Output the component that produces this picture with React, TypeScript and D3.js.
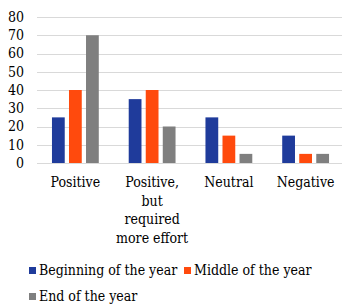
import React, { useEffect, useRef } from 'react';
import * as d3 from 'd3';

const categories = ['Positive', 'Positive, but required more effort', 'Neutral', 'Negative'];
const categoryLines = [['Positive'], ['Positive,', 'but', 'required', 'more effort'], ['Neutral'], ['Negative']];
const seriesNames = ['Beginning of the year', 'Middle of the year', 'End of the year'];
const beginning = [25, 35, 25, 15];
const middle = [40, 40, 15, 5];
const end = [70, 20, 5, 5];
const yTicks = [0, 10, 20, 30, 40, 50, 60, 70, 80];
const colours = ['#1f3b9b', '#ff4a0d', '#7f7f7f'];

const W = 342, H = 304;
const left = 37, right = 344, top = 17, bottom = 163;

const App = () => {
	const ref = useRef<SVGGElement>(null);

	useEffect(() => {
		const g = d3.select(ref.current);
		g.selectAll('*').remove();

		const series = [beginning, middle, end];
		const y = d3.scaleLinear().domain([0, 80]).range([bottom, top]);
		const x0 = d3.scaleBand().domain(categories).range([left, right]).paddingInner(0.39).paddingOuter(0.195);
		const x1 = d3.scaleBand().domain(seriesNames).range([0, x0.bandwidth()]).paddingInner(0.25);

		// gridlines
		g.append('g')
			.selectAll('line')
			.data(yTicks)
			.join('line')
			.attr('x1', left)
			.attr('x2', W)
			.attr('y1', (d) => Math.round(y(d)) + 0.5)
			.attr('y2', (d) => Math.round(y(d)) + 0.5)
			.attr('stroke', '#d9d9d9')
			.attr('stroke-width', 1);

		// y tick labels
		g.append('g')
			.selectAll('text')
			.data(yTicks)
			.join('text')
			.attr('x', 24)
			.attr('y', (d) => y(d))
			.attr('dy', '0.35em')
			.attr('text-anchor', 'end')
			.text((d) => d);

		// bars
		const groups = g.append('g')
			.selectAll('g')
			.data(categories)
			.join('g')
			.attr('transform', (c) => `translate(${x0(c)},0)`);

		groups.selectAll('rect')
			.data((c, i) => series.map((s, j) => ({ name: seriesNames[j], value: s[i], j })))
			.join('rect')
			.attr('x', (d) => x1(d.name) as number)
			.attr('y', (d) => y(d.value))
			.attr('width', x1.bandwidth())
			.attr('height', (d) => y(0) - y(d.value))
			.attr('fill', (d) => colours[d.j]);

		// category labels
		const cat = g.append('g')
			.selectAll('text')
			.data(categories)
			.join('text')
			.attr('x', (c) => (x0(c) as number) + x0.bandwidth() / 2)
			.attr('y', 187)
			.attr('text-anchor', 'middle');
		cat.selectAll('tspan')
			.data((c, i) => categoryLines[i])
			.join('tspan')
			.attr('x', function () {
				return (this as SVGTSpanElement).parentElement!.getAttribute('x');
			})
			.attr('dy', (d, i) => (i === 0 ? 0 : 18.5))
			.text((d) => d);

		// legend
		const legendPos = [[29, 275], [184, 275], [29, 301]];
		const legend = g.append('g')
			.selectAll('g')
			.data(seriesNames)
			.join('g')
			.attr('transform', (d, i) => `translate(${legendPos[i][0]},${legendPos[i][1]})`);
		legend.append('rect')
			.attr('x', 0)
			.attr('y', -8)
			.attr('width', 7)
			.attr('height', 7)
			.attr('fill', (d, i) => colours[i]);
		legend.append('text')
			.attr('x', 10)
			.attr('y', 0)
			.text((d) => d);
	}, []);

	return (
		<svg width={W} height={H} fontFamily="'DejaVu Serif Condensed', 'DejaVu Serif'" fontSize={14}
			style={{ position: 'absolute', left: 0, top: 0, background: '#fff', fontStretch: 'condensed' }}>
			<g ref={ref} />
		</svg>
	);
};

export default App;
